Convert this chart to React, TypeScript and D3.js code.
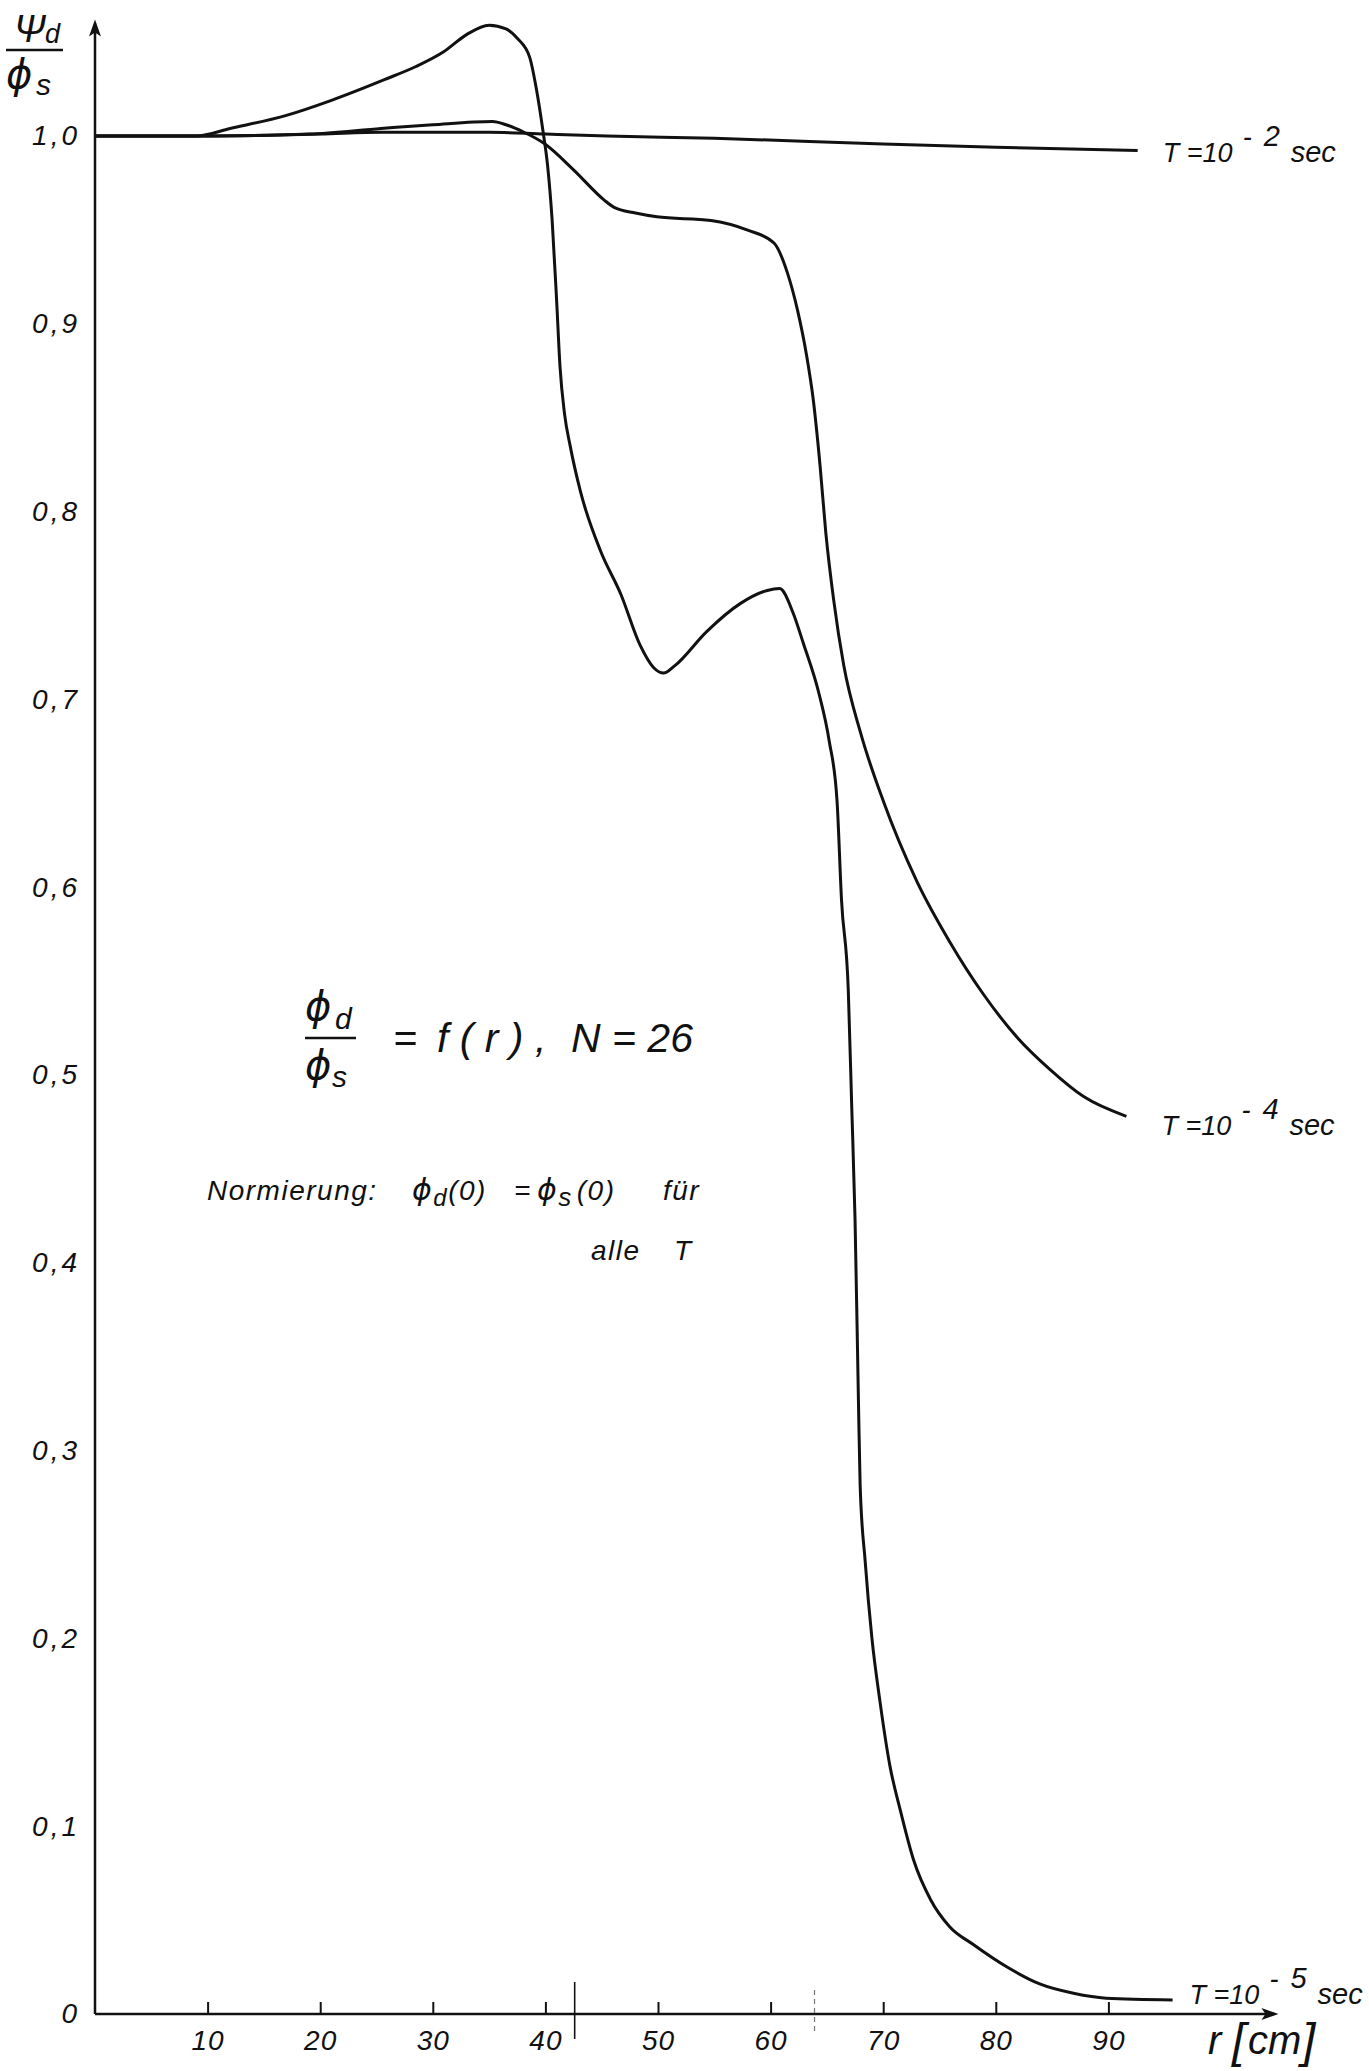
import React, { useEffect, useRef } from "react";
import * as d3 from "d3";

// r en cm
const tickR = [10, 20, 30, 40, 50, 60, 70, 80, 90];
const tickV = [0, 0.1, 0.2, 0.3, 0.4, 0.5, 0.6, 0.7, 0.8, 0.9, 1.0];
const tickVLabels = ["0", "0,1", "0,2", "0,3", "0,4", "0,5", "0,6", "0,7", "0,8", "0,9", "1,0"];

// T = 10^-2 sec
const serieT2: [number, number][] = [
  [0, 1.0], [10, 1.0], [20, 1.001], [25.4, 1.002], [35, 1.002], [40, 1.001],
  [45.5, 1.0], [55, 0.9988], [70, 0.9957], [80, 0.994], [92.6, 0.9923],
];

// T = 10^-4 sec
const serieT4: [number, number][] = [
  [0, 1.0], [10, 1.0], [19, 1.001], [25.4, 1.004], [30, 1.006], [35.3, 1.0077],
  [36.5, 1.006], [38.1, 1.002], [39.9, 0.996], [42.5, 0.982], [45.2, 0.966],
  [46.1, 0.962], [48, 0.959], [49.9, 0.957], [54.7, 0.955], [57.9, 0.95],
  [60.3, 0.943], [61.5, 0.927], [62.4, 0.907], [63.2, 0.883], [63.8, 0.859],
  [64.4, 0.824], [64.9, 0.789], [65.6, 0.753], [66.5, 0.718], [68.0, 0.682],
  [70.0, 0.646], [73.0, 0.603], [75.9, 0.571], [78.9, 0.543], [81.9, 0.52],
  [84.8, 0.503], [87.8, 0.4885], [91.6, 0.478],
];

// T = 10^-5 sec
const serieT5: [number, number][] = [
  [0, 1.0], [5, 1.0], [9, 1.0], [12, 1.004], [17, 1.011], [21, 1.019],
  [25.7, 1.03], [28.5, 1.037], [31, 1.045], [33, 1.054], [35, 1.059],
  [36.5, 1.057], [37.5, 1.052], [38.6, 1.042], [39.2, 1.025], [39.8, 1.002],
  [40.2, 0.984], [40.6, 0.955], [41.0, 0.912], [41.3, 0.877], [41.7, 0.852],
  [42.2, 0.835], [43.1, 0.811], [44.9, 0.779], [46.7, 0.756], [48.4, 0.729],
  [49.6, 0.717], [50.5, 0.714], [51.5, 0.718], [54.3, 0.736], [57.3, 0.751],
  [59.7, 0.758], [60.8, 0.759], [62.0, 0.746], [62.9, 0.73], [64.3, 0.703],
  [65.2, 0.678], [65.9, 0.646], [66.3, 0.593], [66.9, 0.545], [67.2, 0.484],
  [67.5, 0.423], [67.8, 0.327], [67.95, 0.282], [68.4, 0.241], [69.0, 0.2],
  [69.7, 0.167], [70.6, 0.132], [71.5, 0.109], [72.7, 0.082], [74.2, 0.061],
  [75.9, 0.0465], [78.0, 0.037], [81.0, 0.025], [83.9, 0.016], [86.9, 0.011],
  [89.8, 0.0084], [95.7, 0.0075],
];

const series = [
  { exp: "2", data: serieT2 },
  { exp: "4", data: serieT4 },
  { exp: "5", data: serieT5 },
];

// marcas sueltas sobre el eje r
const zoneMarks = [42.6, 63.9];

// hasta donde llegan las flechas de los ejes
const rMax = 105.1;
const vMax = 1.062;

const FONT = "'Liberation Sans', 'DejaVu Sans', sans-serif";
const PHI = "'DejaVu Sans', sans-serif";
const INK = "#111";

const ChartPsi = () => {
  const ref = useRef<SVGGElement>(null);
  const W = 1369;
  const H = 2071;

  useEffect(() => {
    if (!ref.current) return;
    const g = d3.select(ref.current);
    g.selectAll("*").remove();

    const x = d3.scaleLinear().domain([0, 90]).range([95, 1108.4]);
    const y = d3.scaleLinear().domain([0, 1]).range([2014, 136]);
    const x0 = x(0);
    const y0 = y(0);

    // ejes con flecha
    g.append("line")
      .attr("x1", x0).attr("y1", y0).attr("x2", x0).attr("y2", y(vMax) + 4)
      .attr("stroke", INK).attr("stroke-width", 2.5);
    g.append("path")
      .attr("d", `M${x0},${y(vMax)} L${x0 - 6},${y(vMax) + 17} L${x0},${y(vMax) + 13} L${x0 + 6},${y(vMax) + 17} Z`)
      .attr("fill", INK);
    g.append("line")
      .attr("x1", x0).attr("y1", y0).attr("x2", x(rMax) - 4).attr("y2", y0)
      .attr("stroke", INK).attr("stroke-width", 2.5);
    g.append("path")
      .attr("d", `M${x(rMax)},${y0} L${x(rMax) - 17},${y0 - 6} L${x(rMax) - 13},${y0} L${x(rMax) - 17},${y0 + 6} Z`)
      .attr("fill", INK);

    // ticks del eje r
    const axTicks = g.append("g").attr("transform", `translate(0,${y0})`)
      .call(d3.axisTop(x).tickValues(tickR).tickSize(12).tickFormat(() => ""));
    axTicks.select(".domain").remove();
    axTicks.selectAll("line").attr("stroke", INK).attr("stroke-width", 2);

    const axR = g.append("g").attr("transform", `translate(0,${y0})`)
      .call(d3.axisBottom(x).tickValues(tickR).tickSize(0).tickPadding(16).tickFormat((d) => String(d)));
    axR.select(".domain").remove();
    axR.selectAll("text")
      .attr("fill", INK).style("font-family", FONT).style("font-style", "italic")
      .style("font-size", "28px").style("letter-spacing", "1px");

    const axV = g.append("g").attr("transform", `translate(${x0},0)`)
      .call(d3.axisLeft(y).tickValues(tickV).tickSize(0).tickPadding(15)
        .tickFormat((d, i) => tickVLabels[i]));
    axV.select(".domain").remove();
    axV.selectAll("text")
      .attr("fill", INK).style("font-family", FONT).style("font-style", "italic")
      .style("font-size", "28px").style("letter-spacing", "3px");

    // marcas de zona
    zoneMarks.forEach((m, i) => {
      g.append("line")
        .attr("x1", x(m)).attr("x2", x(m))
        .attr("y1", y0 - (i === 0 ? 32 : 24)).attr("y2", y0 + (i === 0 ? 25 : 20))
        .attr("stroke", i === 0 ? INK : "#777")
        .attr("stroke-width", i === 0 ? 1.6 : 1.2)
        .attr("stroke-dasharray", i === 0 ? null : "5,4");
    });

    // curvas
    const line = d3.line<[number, number]>()
      .x((d) => x(d[0]))
      .y((d) => y(d[1]))
      .curve(d3.curveMonotoneX);

    const labelOff: Record<string, [number, number]> = { "2": [25, 12], "4": [35, 19], "5": [17, 4] };

    series.forEach((s) => {
      g.append("path")
        .attr("d", line(s.data))
        .attr("fill", "none")
        .attr("stroke", INK)
        .attr("stroke-width", 3)
        .attr("stroke-linejoin", "round");

      const last = s.data[s.data.length - 1];
      const lx = x(last[0]) + labelOff[s.exp][0];
      const ly = y(last[1]) + labelOff[s.exp][1];
      const t = g.append("text")
        .attr("x", lx).attr("y", ly)
        .attr("fill", INK)
        .style("font-family", FONT).style("font-style", "italic").style("font-size", "27px");
      t.append("tspan").text("T =10");
      t.append("tspan").attr("x", lx + 80).attr("dy", -16).text("-");
      t.append("tspan").attr("x", lx + 101).style("font-size", "29px").text(s.exp);
      t.append("tspan").attr("x", lx + 128).attr("dy", 16).style("font-size", "29px").text("sec");
    });

    // titulo eje y
    const ty = g.append("g");
    ty.append("text").attr("x", 14).attr("y", 42).attr("fill", INK)
      .style("font-family", FONT).style("font-style", "italic").style("font-size", "38px").text("Ψ");
    ty.append("text").attr("x", 45).attr("y", 43).attr("fill", INK)
      .style("font-family", FONT).style("font-style", "italic").style("font-size", "27px").text("d");
    ty.append("line").attr("x1", 6).attr("x2", 63).attr("y1", 50).attr("y2", 50)
      .attr("stroke", INK).attr("stroke-width", 2.5);
    ty.append("text").attr("x", 6).attr("y", 88).attr("fill", INK)
      .style("font-family", PHI).style("font-style", "italic").style("font-size", "40px").text("ϕ");
    ty.append("text").attr("x", 36).attr("y", 95).attr("fill", INK)
      .style("font-family", FONT).style("font-style", "italic").style("font-size", "30px").text("s");

    // etiqueta eje r
    const tr = g.append("text").attr("y", 2054).attr("fill", INK)
      .style("font-family", FONT).style("font-style", "italic");
    tr.append("tspan").attr("x", 1208).style("font-size", "40px").text("r");
    tr.append("tspan").attr("x", 1232).attr("dy", 3).style("font-size", "48px").text("[");
    tr.append("tspan").attr("x", 1248).attr("dy", -3).style("font-size", "40px").text("cm");
    tr.append("tspan").attr("x", 1302).attr("dy", 3).style("font-size", "48px").text("]");

    // formula
    const fx = 305;
    g.append("text").attr("x", fx).attr("y", 1020).attr("fill", INK)
      .style("font-family", PHI).style("font-style", "italic").style("font-size", "40px").text("ϕ");
    g.append("text").attr("x", fx + 30).attr("y", 1029).attr("fill", INK)
      .style("font-family", FONT).style("font-style", "italic").style("font-size", "30px").text("d");
    g.append("line").attr("x1", fx).attr("x2", fx + 51).attr("y1", 1038).attr("y2", 1038)
      .attr("stroke", INK).attr("stroke-width", 2.5);
    g.append("text").attr("x", fx).attr("y", 1079).attr("fill", INK)
      .style("font-family", PHI).style("font-style", "italic").style("font-size", "40px").text("ϕ");
    g.append("text").attr("x", fx + 27).attr("y", 1087).attr("fill", INK)
      .style("font-family", FONT).style("font-style", "italic").style("font-size", "30px").text("s");
    const eq = g.append("text").attr("y", 1052).attr("fill", INK)
      .style("font-family", FONT).style("font-style", "italic").style("font-size", "41px");
    eq.append("tspan").attr("x", 393).text("=");
    eq.append("tspan").attr("x", 437).text("f ( r ) ,");
    eq.append("tspan").attr("x", 571).text("N = 26");

    // normierung
    const nm = g.append("text").attr("y", 1200).attr("fill", INK)
      .style("font-family", FONT).style("font-style", "italic").style("font-size", "28px")
      .style("letter-spacing", "1.5px");
    nm.append("tspan").attr("x", 207).text("Normierung:");
    nm.append("tspan").attr("x", 412).style("font-family", PHI).style("font-size", "30px").text("ϕ");
    nm.append("tspan").attr("dy", 6).style("font-size", "24px").text("d");
    nm.append("tspan").attr("dy", -6).text("(0)");
    nm.append("tspan").attr("x", 514).text("=");
    nm.append("tspan").attr("x", 537).style("font-family", PHI).style("font-size", "30px").text("ϕ");
    nm.append("tspan").attr("dy", 6).style("font-size", "26px").text("s");
    nm.append("tspan").attr("dy", -6).attr("dx", 4).text("(0)");
    nm.append("tspan").attr("x", 663).text("für");
    const al = g.append("text").attr("y", 1260).attr("fill", INK)
      .style("font-family", FONT).style("font-style", "italic").style("font-size", "28px")
      .style("letter-spacing", "1.5px");
    al.append("tspan").attr("x", 591).text("alle");
    al.append("tspan").attr("x", 674).text("T");
  }, []);

  return (
    <svg width={W} height={H} style={{ position: "absolute", left: 0, top: 0, background: "#fff", display: "block" }}>
      <g ref={ref}></g>
    </svg>
  );
};

export default function App() {
  return <ChartPsi />;
}
